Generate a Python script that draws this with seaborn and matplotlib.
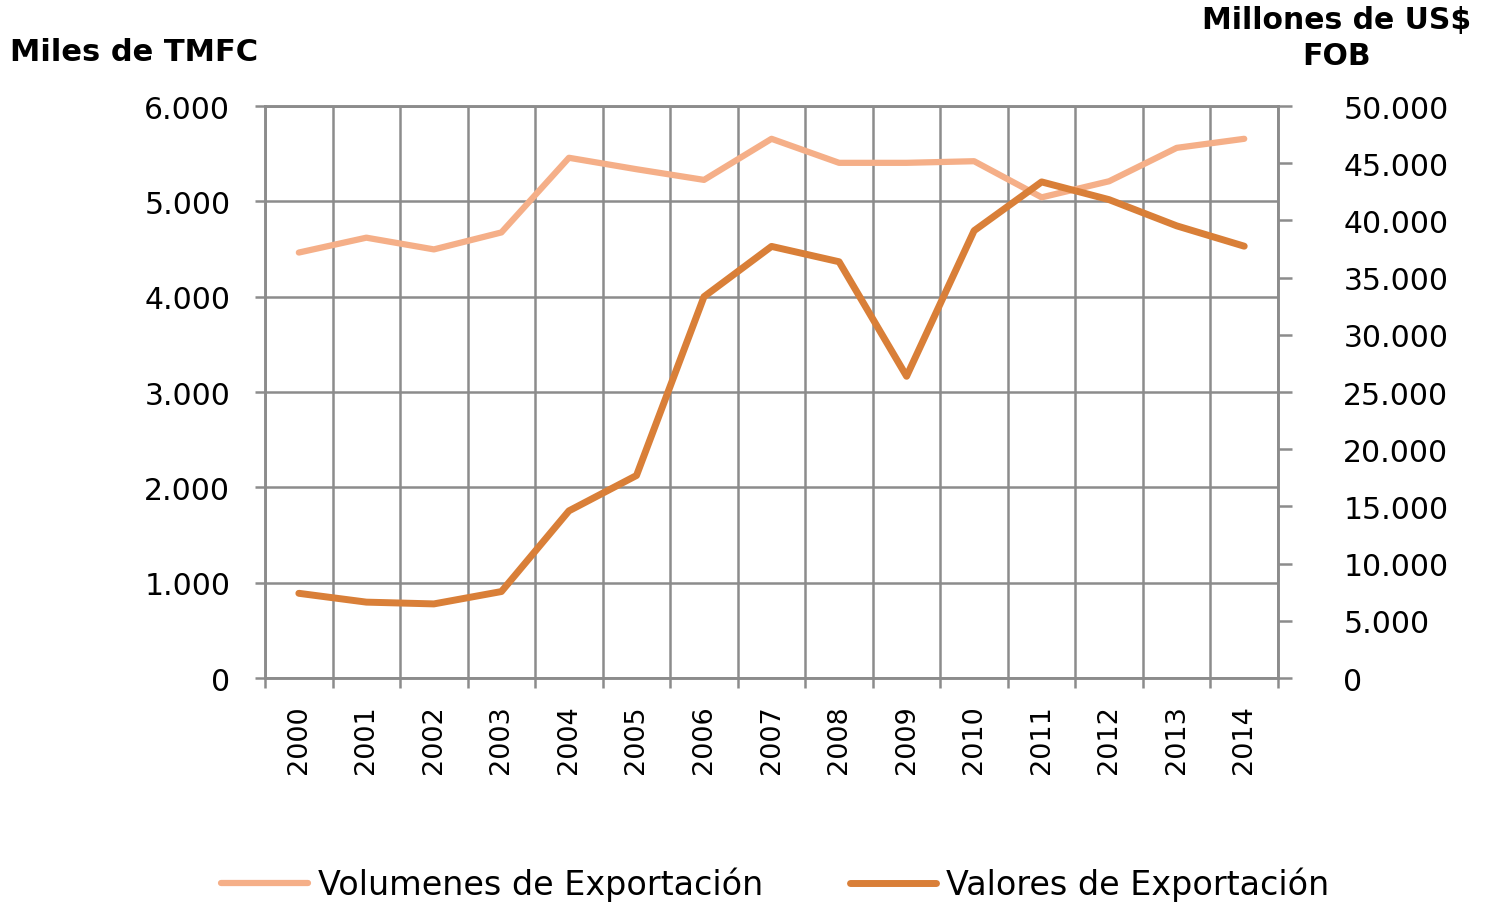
import seaborn as sns
import matplotlib.pyplot as plt
from matplotlib.ticker import FuncFormatter

# Data
years = list(range(2000, 2015))
volumenes = [4463, 4619, 4496, 4674, 5457, 5337, 5225, 5656, 5404, 5404,
             5421, 5042, 5211, 5561, 5656]
valores = [7407, 6636, 6481, 7562, 14614, 17704, 33333, 37728, 36387, 26378,
           39102, 43365, 41812, 39525, 37747]

left_ticks = list(range(0, 6001, 1000))
right_ticks = list(range(0, 50001, 5000))

light = "#F5AF88"
dark = "#D97F38"
grid_gray = "#8C8C8C"

sns.set_style("white")
plt.rcParams['font.family'] = ['DejaVu Sans']
plt.rcParams['text.color'] = 'black'
plt.rcParams['xtick.labelcolor'] = 'black'
plt.rcParams['ytick.labelcolor'] = 'black'


def dot_thousands(v, pos):
    return f"{int(round(v)):,}".replace(",", ".")


fig = plt.figure(figsize=(14.85, 9.03), dpi=100)
ax = fig.add_axes([0.1785, 0.248, 0.6821, 0.6335])
ax2 = ax.twinx()

sns.lineplot(x=years, y=volumenes, ax=ax, color=light, linewidth=4.5,
             label="Volumenes de Exportación", legend=False)
sns.lineplot(x=years, y=valores, ax=ax2, color=dark, linewidth=5,
             label="Valores de Exportación", legend=False)

# left axis
ax.set_ylim(0, 6000)
ax.set_yticks(left_ticks)
ax.yaxis.set_major_formatter(FuncFormatter(dot_thousands))
ax.tick_params(axis="y", direction="out", length=7, width=1.8, color=grid_gray,
               pad=18, labelsize=21.5, left=True)

# x axis: categories, grid between them
ax.set_xlim(1999.5, 2014.5)
ax.set_xticks(years)
ax.set_xticks([y - 0.5 for y in years] + [2014.5], minor=True)
ax.set_xticklabels([str(y) for y in years], rotation=90)
ax.tick_params(axis="x", which="major", length=0, pad=19, labelsize=19.5)
ax.tick_params(axis="x", which="minor", direction="out", length=7, width=1.8,
               color=grid_gray, bottom=True)

ax.grid(False)
ax.grid(True, axis="y", which="major", color=grid_gray, linewidth=1.8)
ax.grid(True, axis="x", which="minor", color=grid_gray, linewidth=1.8)
ax.set_axisbelow(True)

# right axis
ax2.set_ylim(0, 50000)
ax2.set_yticks(right_ticks)
ax2.yaxis.set_major_formatter(FuncFormatter(dot_thousands))
ax2.tick_params(axis="y", direction="out", length=10, width=1.8, color=grid_gray,
                pad=37, labelsize=21.5, right=True)
ax2.grid(False)
ax2.set_ylabel("")

for a in (ax, ax2):
    for sp in a.spines.values():
        sp.set_color(grid_gray)
        sp.set_linewidth(1.8)

# axis titles
fig.text(0.007, 0.942, "Miles de TMFC", fontsize=22, fontweight="bold",
         ha="left", va="center")
fig.text(0.9, 0.957, "Millones de US$\nFOB", fontsize=21.5, fontweight="bold",
         ha="center", va="center", linespacing=1.3, multialignment="center")

# legend
handles = ax.get_lines()[:1] + ax2.get_lines()[:1]
labels = ["Volumenes de Exportación", "Valores de Exportación"]
fig.legend(handles, labels, loc="center", bbox_to_anchor=(0.522, 0.02), ncol=2,
           frameon=False, fontsize=24, handlelength=2.6, handletextpad=0.3,
           columnspacing=2.6)

fig.savefig("out.png", dpi=100)
